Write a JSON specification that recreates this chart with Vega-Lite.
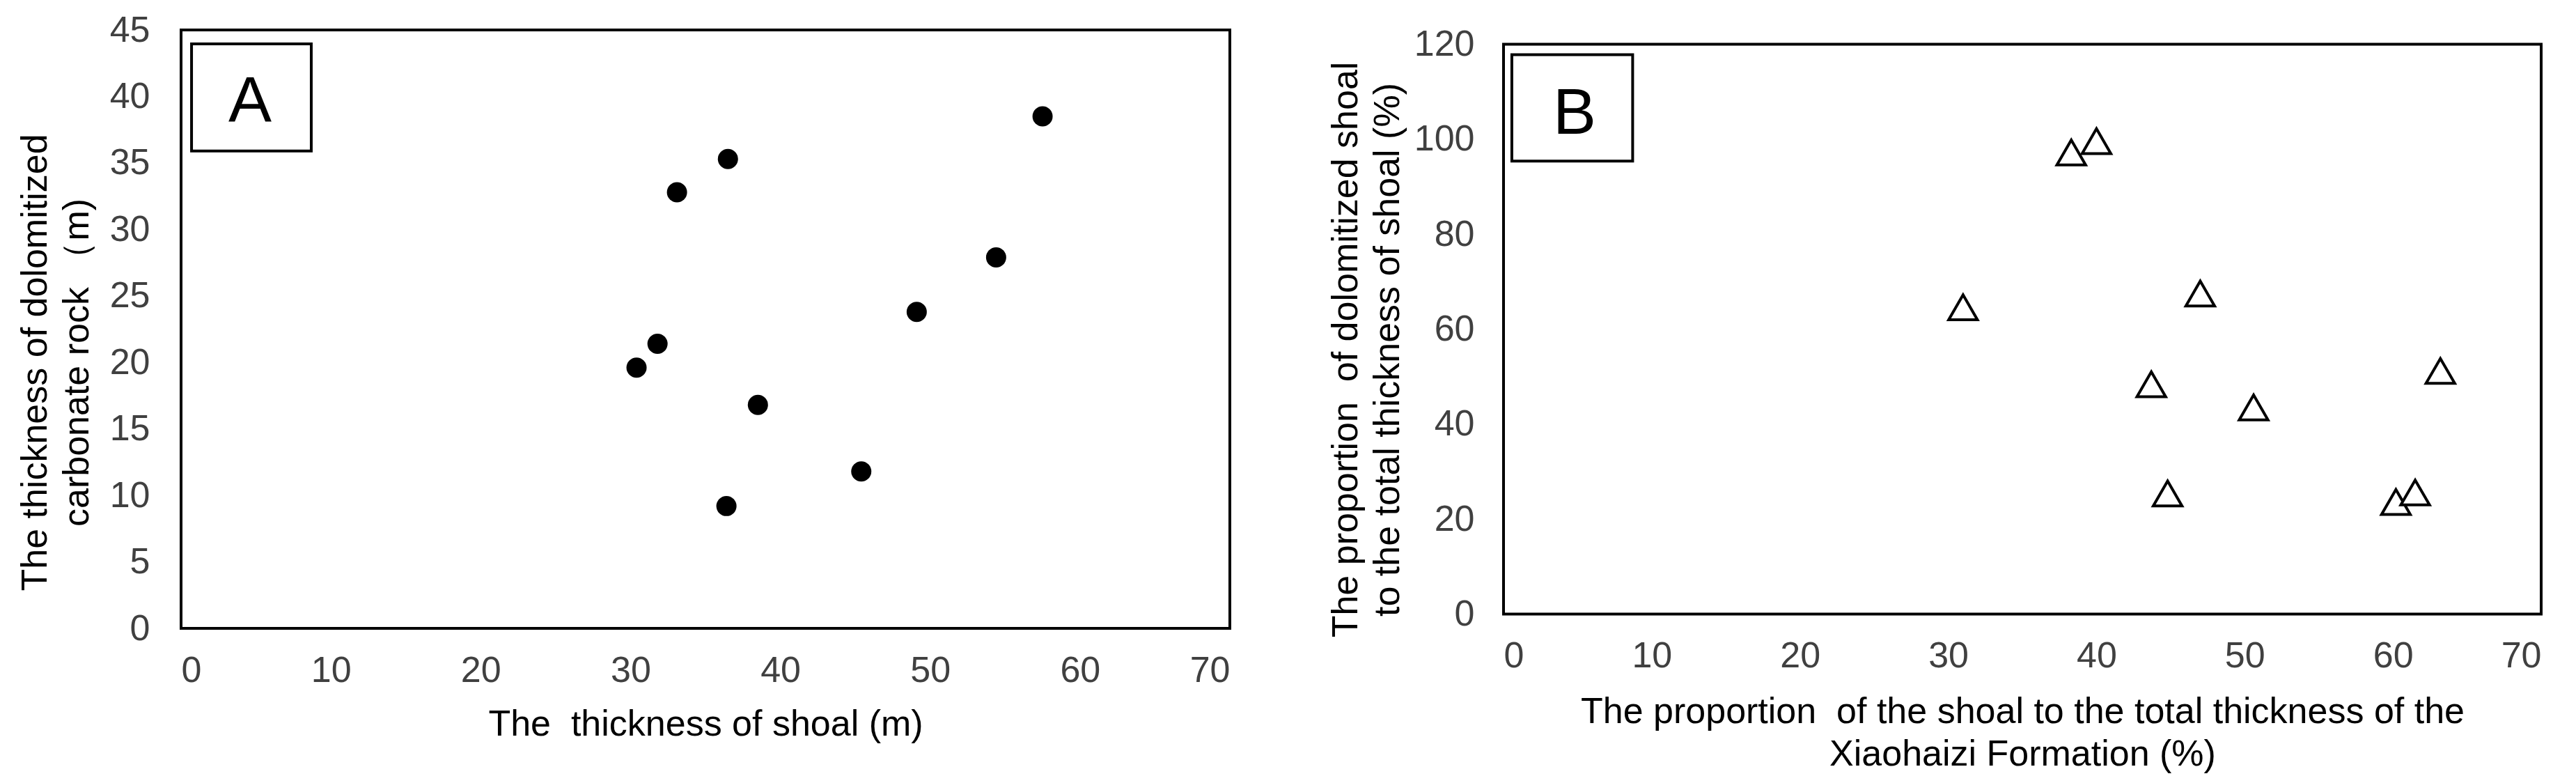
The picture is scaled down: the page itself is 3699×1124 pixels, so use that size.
{
  "$schema": "https://vega.github.io/schema/vega-lite/v6.json",
  "background": "white",
  "padding": {"left": 22, "top": 15, "right": 0, "bottom": 0},
  "spacing": 393,
  "bounds": "flush",
  "center": true,
  "config": {
    "view": {"stroke": "black", "strokeWidth": 4},
    "axis": {
      "grid": false, "domain": false, "ticks": false, "tickSize": 0,
      "labelFont": "Liberation Sans", "labelFontSize": 52, "labelColor": "#404040",
      "titleFont": "Liberation Sans", "titleFontSize": 52, "titleColor": "black", "titleFontWeight": "normal"
    }
  },
  "hconcat": [
    {
      "width": 1506, "height": 859,
      "layer": [
        {
          "data": {"values": [
            {"shoal": 57.5, "dolo": 38.5},
            {"shoal": 36.5, "dolo": 35.3},
            {"shoal": 33.1, "dolo": 32.8},
            {"shoal": 54.4, "dolo": 27.9},
            {"shoal": 49.1, "dolo": 23.8},
            {"shoal": 31.8, "dolo": 21.4},
            {"shoal": 30.4, "dolo": 19.6},
            {"shoal": 38.5, "dolo": 16.8},
            {"shoal": 45.4, "dolo": 11.8},
            {"shoal": 36.4, "dolo": 9.2}
          ]},
          "mark": {"type": "point", "shape": "circle", "filled": true, "color": "black", "opacity": 1, "size": 840},
          "encoding": {
            "x": {"field": "shoal", "type": "quantitative",
              "scale": {"domain": [0, 70], "nice": false},
              "axis": {"values": [0,10,20,30,40,50,60,70], "labelPadding": 35,
                "title": "The\u00a0 thickness of shoal (m)", "titleY": 153, "titleBaseline": "alphabetic"}},
            "y": {"field": "dolo", "type": "quantitative",
              "scale": {"domain": [0, 45], "nice": false},
              "axis": {"values": [0,5,10,15,20,25,30,35,40,45], "labelPadding": 45,
                "title": ["The thickness of dolomitized", "carbonate rock （m)"],
                "titleX": -194, "titleY": 477, "titleBaseline": "alphabetic", "titleAlign": "center",
                "titleAngle": 270, "titleLineHeight": 60}}
          }
        },
        {
          "data": {"values": [{"label": "A"}]},
          "mark": {"type": "rect", "fill": "white", "stroke": "black", "strokeWidth": 4},
          "encoding": {
            "x": {"datum": 0.7, "type": "quantitative"},
            "x2": {"datum": 8.69},
            "y": {"datum": 43.95, "type": "quantitative"},
            "y2": {"datum": 35.9}
          }
        },
        {
          "data": {"values": [{"label": "A"}]},
          "mark": {"type": "text", "font": "Liberation Sans", "fontSize": 93, "align": "center", "baseline": "alphabetic", "color": "black"},
          "encoding": {
            "x": {"datum": 4.6, "type": "quantitative"},
            "y": {"datum": 38.09, "type": "quantitative"},
            "text": {"field": "label"}
          }
        }
      ]
    },
    {
      "width": 1490, "height": 818,
      "layer": [
        {
          "data": {"values": [
            {"shoal_pct": 38.3, "dolo_pct": 97.2},
            {"shoal_pct": 40.0, "dolo_pct": 99.6},
            {"shoal_pct": 31.0, "dolo_pct": 64.6},
            {"shoal_pct": 47.0, "dolo_pct": 67.5},
            {"shoal_pct": 43.7, "dolo_pct": 48.4},
            {"shoal_pct": 50.6, "dolo_pct": 43.5},
            {"shoal_pct": 63.2, "dolo_pct": 51.2},
            {"shoal_pct": 44.8, "dolo_pct": 25.4},
            {"shoal_pct": 60.2, "dolo_pct": 23.6},
            {"shoal_pct": 61.5, "dolo_pct": 25.6}
          ]},
          "mark": {"type": "point", "shape": "triangle-up", "filled": true, "fill": "white", "stroke": "black", "strokeWidth": 4, "opacity": 1, "size": 1700},
          "encoding": {
            "x": {"field": "shoal_pct", "type": "quantitative",
              "scale": {"domain": [0, 70], "nice": false},
              "axis": {"values": [0,10,20,30,40,50,60,70], "labelPadding": 35,
                "title": ["The proportion\u00a0 of the shoal to the total thickness of the", "Xiaohaizi Formation (%)"],
                "titleY": 156, "titleBaseline": "alphabetic", "titleLineHeight": 61}},
            "y": {"field": "dolo_pct", "type": "quantitative",
              "scale": {"domain": [0, 120], "nice": false},
              "axis": {"values": [0,20,40,60,80,100,120], "labelPadding": 42,
                "title": ["The proportion\u00a0 of dolomitized shoal", "to the total thickness of shoal (%)"],
                "titleX": -211, "titleY": 438, "titleBaseline": "alphabetic", "titleAlign": "center",
                "titleAngle": 270, "titleLineHeight": 60}}
          }
        },
        {
          "data": {"values": [{"label": "B"}]},
          "mark": {"type": "rect", "fill": "white", "stroke": "black", "strokeWidth": 4},
          "encoding": {
            "x": {"datum": 0.56, "type": "quantitative"},
            "x2": {"datum": 8.71},
            "y": {"datum": 117.8, "type": "quantitative"},
            "y2": {"datum": 95.4}
          }
        },
        {
          "data": {"values": [{"label": "B"}]},
          "mark": {"type": "text", "font": "Liberation Sans", "fontSize": 93, "align": "center", "baseline": "alphabetic", "color": "black"},
          "encoding": {
            "x": {"datum": 4.79, "type": "quantitative"},
            "y": {"datum": 101.2, "type": "quantitative"},
            "text": {"field": "label"}
          }
        }
      ]
    }
  ]
}
